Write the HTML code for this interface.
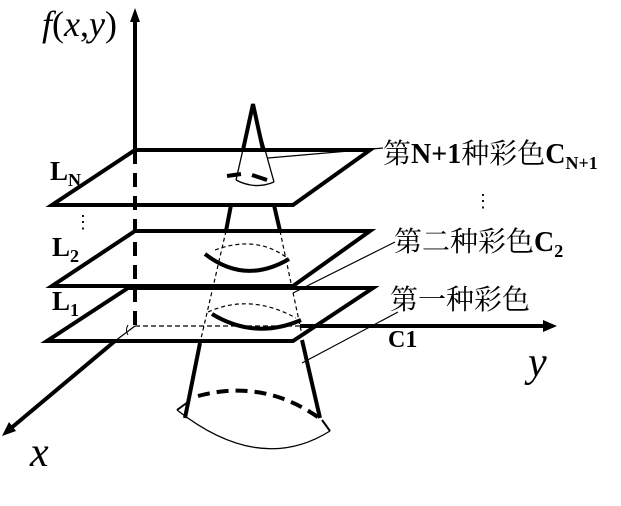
<!DOCTYPE html>
<html><head><meta charset="utf-8"><style>body{margin:0;background:#fff}svg{display:block}</style></head><body>
<svg width="621" height="506" viewBox="0 0 621 506" xmlns="http://www.w3.org/2000/svg">
<g fill="none" stroke="#000" stroke-linejoin="miter">
<line x1="135" y1="150" x2="135" y2="20" stroke-width="4"/>
<polygon points="135,8 130,22 140,22" fill="#000" stroke="none"/>
<line x1="135" y1="150" x2="135" y2="326" stroke-width="4" stroke-dasharray="14,9"/>
<polygon points="135,150 370,150 293,205 52,205" stroke-width="4"/>
<polygon points="135,231 370,231 293,286 52,286" stroke-width="4"/>
<polygon points="128,288 373,288 293,341 47,341" stroke-width="4"/>
<line x1="135" y1="326" x2="300" y2="326" stroke-width="1.3" stroke-dasharray="5,3"/>
<line x1="300" y1="326" x2="545" y2="326" stroke-width="4"/>
<polygon points="557,326 543,320 543,332" fill="#000" stroke="none"/>
<line x1="135" y1="326" x2="115" y2="341" stroke-width="1.3"/>
<line x1="115" y1="341" x2="10" y2="429" stroke-width="4"/>
<polygon points="2,436 9,422 16,431" fill="#000" stroke="none"/>
<polyline points="243,150 253,104 263,150" stroke-width="4"/>
<line x1="252" y1="110" x2="236" y2="180" stroke-width="1.3"/>
<line x1="254" y1="110" x2="274" y2="182" stroke-width="1.3"/>
<path d="M236,180 Q255,190 274,182" stroke-width="1.3"/>
<line x1="227" y1="176" x2="241" y2="174" stroke-width="4"/>
<line x1="252" y1="175" x2="267" y2="180" stroke-width="4"/>
<line x1="231" y1="205" x2="226" y2="231" stroke-width="4"/>
<line x1="274" y1="205" x2="280" y2="231" stroke-width="4"/>
<line x1="226" y1="231" x2="200" y2="343" stroke-width="1.2" stroke-dasharray="4,3"/>
<line x1="280" y1="231" x2="302" y2="335" stroke-width="1.2" stroke-dasharray="4,3"/>
<path d="M215,250 Q255,235 286,257" stroke-width="1.2" stroke-dasharray="4,3"/>
<path d="M205,254 Q245,285 289,259" stroke-width="4"/>
<path d="M208,312 Q250,293 296,318" stroke-width="1.2" stroke-dasharray="4,3"/>
<path d="M212,314 Q255,340 301,320" stroke-width="4"/>
<line x1="200" y1="343" x2="185" y2="418" stroke-width="4"/>
<line x1="302" y1="340" x2="320" y2="418" stroke-width="4"/>
<path d="M198,396 Q265,378 322,420" stroke-width="4" stroke-dasharray="12,7"/>
<path d="M177,410 Q260,475 330,431" stroke-width="1.3"/>
<line x1="177" y1="410" x2="188" y2="402" stroke-width="2"/>
<line x1="322" y1="420" x2="330" y2="431" stroke-width="2"/>
<line x1="383" y1="148" x2="268" y2="158" stroke-width="1.2"/>
<line x1="395" y1="242" x2="293" y2="293" stroke-width="1.2"/>
<line x1="398" y1="312" x2="302" y2="363" stroke-width="1.2"/>
<path d="M128,325 q-3,5 0,10" stroke-width="1"/>
</g>
<g font-family="'Liberation Serif','Noto Serif CJK SC',serif" fill="#000">
<text x="42" y="36" font-size="36" font-style="italic">f<tspan font-style="normal">(</tspan>x<tspan font-style="normal">,</tspan>y<tspan font-style="normal">)</tspan></text>
<text x="50" y="180" font-size="27" font-weight="bold">L<tspan font-size="18" dy="6">N</tspan></text>
<text x="52" y="256" font-size="27" font-weight="bold">L<tspan font-size="18" dy="6">2</tspan></text>
<text x="52" y="310" font-size="27" font-weight="bold">L<tspan font-size="18" dy="6">1</tspan></text>
<text x="74" y="228" font-size="18">⋮</text>
<text x="383" y="163" font-size="28"><tspan>第</tspan><tspan font-weight="bold">N+1</tspan>种彩色<tspan font-weight="bold">C</tspan><tspan font-weight="bold" font-size="18" dy="6">N+1</tspan></text>
<text x="474" y="207" font-size="18">⋮</text>
<text x="394" y="251" font-size="28">第二种彩色<tspan font-weight="bold">C</tspan><tspan font-weight="bold" font-size="18" dy="6">2</tspan></text>
<text x="390" y="309" font-size="28">第一种彩色</text>
<text x="388" y="347" font-size="24" font-weight="bold">C1</text>
<text x="528" y="376" font-size="42" font-style="italic">y</text>
<text x="30" y="466" font-size="42" font-style="italic">x</text>
</g>
</svg>
</body></html>
